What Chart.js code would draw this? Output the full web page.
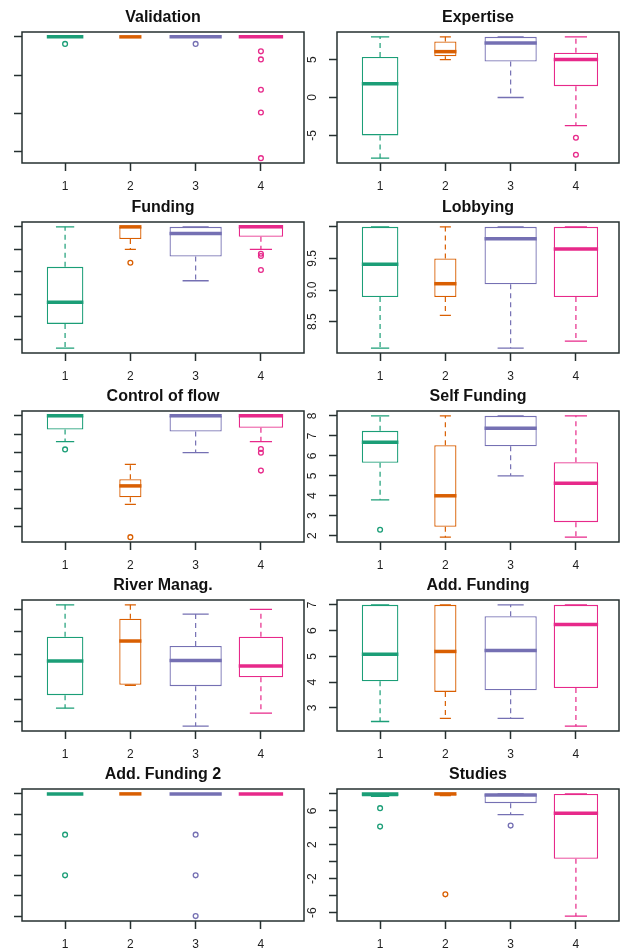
<!DOCTYPE html>
<html>
<head>
<meta charset="utf-8">
<script src="https://cdn.jsdelivr.net/npm/chart.js@4.4.1/dist/chart.umd.min.js"></script>
<style>
  html, body { margin: 0; padding: 0; background: #ffffff; width: 626px; height: 949px; overflow: hidden; }
  body { position: relative; }
  canvas { position: absolute; }
</style>
</head>
<body>
<script>
// ---- groups ----
const groups = ['1', '2', '3', '4'];
const groupX = [1, 2, 3, 4];

// ---- Validation ----
const validationLow  = [8, 8, 8, 8];
const validationQ1   = [8, 8, 8, 8];
const validationMed  = [8, 8, 8, 8];
const validationQ3   = [8, 8, 8, 8];
const validationHigh = [8, 8, 8, 8];
const validationOut  = [[7.63], [], [7.63], [7.24, 6.82, 5.23, 4.04, 1.65]];
const validationTicks = [8, 6, 4, 2];

// ---- Expertise ----
const expertiseLow  = [-8, 5, 0, -3.7];
const expertiseQ1   = [-5, 5.45, 4.75, 1.5];
const expertiseMed  = [1.8, 6.05, 7.2, 5];
const expertiseQ3   = [5.35, 7.4, 8, 5.9];
const expertiseHigh = [8, 8, 8, 8];
const expertiseOut  = [[], [], [], [-5.3, -7.55]];
const expertiseTicks = [5, 0, -5];
const expertiseTickLabels = ['5', '0', '-5'];

// ---- Funding ----
const fundingLow  = [7.3, 9.5, 8.8, 9.5];
const fundingQ1   = [7.84, 9.73, 9.34, 9.78];
const fundingMed  = [8.32, 10, 9.85, 10];
const fundingQ3   = [9.11, 10, 10, 10];
const fundingHigh = [10, 10, 10, 10];
const fundingOut  = [[], [9.2], [], [9.4, 9.35, 9.04]];
const fundingTicks = [10, 9.5, 9, 8.5, 8, 7.5];

// ---- Lobbying ----
const lobbyingLow  = [8.08, 8.6, 8.08, 8.19];
const lobbyingQ1   = [8.89, 8.89, 9.09, 8.89];
const lobbyingMed  = [9.41, 9.1, 9.81, 9.65];
const lobbyingQ3   = [10, 9.5, 10, 10];
const lobbyingHigh = [10, 10, 10, 10];
const lobbyingOut  = [[], [], [], []];
const lobbyingTicks = [10, 9.5, 9, 8.5];
const lobbyingTickLabels = ['', '9.5', '9.0', '8.5'];

// ---- Control of flow ----
const controlLow  = [6.6, 3.2, 6, 6.6];
const controlQ1   = [7.26, 3.58, 7.15, 7.35];
const controlMed  = [8, 4.2, 8, 8];
const controlQ3   = [8, 4.56, 8, 8];
const controlHigh = [8, 5.37, 8, 8];
const controlOut  = [[6.18], [1.42], [], [6.2, 6.0, 5.03]];
const controlTicks = [8, 7, 6, 5, 4, 3, 2];

// ---- Self Funding ----
const selfFundingLow  = [3.8, 1.93, 5, 1.93];
const selfFundingQ1   = [5.65, 2.45, 6.48, 2.68];
const selfFundingMed  = [6.68, 4, 7.38, 4.63];
const selfFundingQ3   = [7.25, 6.53, 8, 5.68];
const selfFundingHigh = [8, 8, 8, 8];
const selfFundingOut  = [[2.3], [], [], []];
const selfFundingTicks = [8, 7, 6, 5, 4, 3, 2];
const selfFundingTickLabels = ['8', '7', '6', '5', '4', '3', '2'];

// ---- River Manag. ----
const riverLow  = [2.6, 3.62, 1.8, 2.38];
const riverQ1   = [3.18, 3.64, 3.58, 3.98];
const riverMed  = [4.7, 5.59, 4.72, 4.48];
const riverQ3   = [5.78, 6.58, 5.37, 5.78];
const riverHigh = [7.2, 7.2, 6.79, 7.0];
const riverOut  = [[], [], [], []];
const riverTicks = [7, 6, 5, 4, 3, 2];

// ---- Add. Funding ----
const addFundingLow  = [2.47, 2.59, 2.59, 2.29];
const addFundingQ1   = [4.03, 3.62, 3.68, 3.77];
const addFundingMed  = [5.08, 5.19, 5.23, 6.24];
const addFundingQ3   = [7, 7, 6.56, 7];
const addFundingHigh = [7, 7, 7, 7];
const addFundingOut  = [[], [], [], []];
const addFundingTicks = [7, 6, 5, 4, 3];
const addFundingTickLabels = ['7', '6', '5', '4', '3'];

// ---- Add. Funding 2 ----
const addFunding2Low  = [7, 7, 7, 7];
const addFunding2Q1   = [7, 7, 7, 7];
const addFunding2Med  = [7, 7, 7, 7];
const addFunding2Q3   = [7, 7, 7, 7];
const addFunding2High = [7, 7, 7, 7];
const addFunding2Out  = [[5, 3], [], [5, 3, 1], []];
const addFunding2Ticks = [7, 6, 5, 4, 3, 2, 1];

// ---- Studies ----
const studiesLow  = [7.7, 7.8, 5.56, -6.42];
const studiesQ1   = [7.7, 7.8, 6.91, 0.34];
const studiesMed  = [8, 8, 7.86, 5.73];
const studiesQ3   = [8, 8, 8, 8];
const studiesHigh = [8, 8, 8, 8];
const studiesOut  = [[6.32, 4.14], [-3.85], [4.26], []];
const studiesTicks = [8, 6, 4, 2, 0, -2, -4, -6];
const studiesTickLabels = ['', '6', '', '2', '', '-2', '', '-6'];

// ---- styling ----
const palette = ['#1B9E77', '#D95F02', '#7570B3', '#E7298A'];
const boxWidths = [0.56, 0.34, 0.8, 0.68];   // box width relative to group spacing
const frameColor = '#263030';
const fontFamily = '"Liberation Sans", Arial, Helvetica, sans-serif';

const panels = [
  { title: 'Validation', low: validationLow, q1: validationQ1, med: validationMed, q3: validationQ3, high: validationHigh, out: validationOut, ticks: validationTicks, labels: null },
  { title: 'Expertise', low: expertiseLow, q1: expertiseQ1, med: expertiseMed, q3: expertiseQ3, high: expertiseHigh, out: expertiseOut, ticks: expertiseTicks, labels: expertiseTickLabels },
  { title: 'Funding', low: fundingLow, q1: fundingQ1, med: fundingMed, q3: fundingQ3, high: fundingHigh, out: fundingOut, ticks: fundingTicks, labels: null },
  { title: 'Lobbying', low: lobbyingLow, q1: lobbyingQ1, med: lobbyingMed, q3: lobbyingQ3, high: lobbyingHigh, out: lobbyingOut, ticks: lobbyingTicks, labels: lobbyingTickLabels },
  { title: 'Control of flow', low: controlLow, q1: controlQ1, med: controlMed, q3: controlQ3, high: controlHigh, out: controlOut, ticks: controlTicks, labels: null },
  { title: 'Self Funding', low: selfFundingLow, q1: selfFundingQ1, med: selfFundingMed, q3: selfFundingQ3, high: selfFundingHigh, out: selfFundingOut, ticks: selfFundingTicks, labels: selfFundingTickLabels },
  { title: 'River Manag.', low: riverLow, q1: riverQ1, med: riverMed, q3: riverQ3, high: riverHigh, out: riverOut, ticks: riverTicks, labels: null },
  { title: 'Add. Funding', low: addFundingLow, q1: addFundingQ1, med: addFundingMed, q3: addFundingQ3, high: addFundingHigh, out: addFundingOut, ticks: addFundingTicks, labels: addFundingTickLabels },
  { title: 'Add. Funding 2', low: addFunding2Low, q1: addFunding2Q1, med: addFunding2Med, q3: addFunding2Q3, high: addFunding2High, out: addFunding2Out, ticks: addFunding2Ticks, labels: null },
  { title: 'Studies', low: studiesLow, q1: studiesQ1, med: studiesMed, q3: studiesQ3, high: studiesHigh, out: studiesOut, ticks: studiesTicks, labels: studiesTickLabels }
];

// whiskers + staples under the boxes, medians on top of them
const boxplotParts = {
  id: 'boxplotParts',
  beforeDatasetsDraw(chart, args, opts) {
    const { ctx } = chart;
    const y = chart.scales.y;
    ctx.save();
    opts.low.forEach((lo, g) => {
      const bar = chart.getDatasetMeta(g).data[0];
      const cx = bar.x;
      const half = bar.width / 4;
      const yLo = y.getPixelForValue(lo);
      const yHi = y.getPixelForValue(opts.high[g]);
      const yQ1 = y.getPixelForValue(opts.q1[g]);
      const yQ3 = y.getPixelForValue(opts.q3[g]);
      ctx.strokeStyle = palette[g];
      ctx.lineWidth = 1.2;
      ctx.setLineDash([5, 4]);
      ctx.beginPath();
      ctx.moveTo(cx, yQ1); ctx.lineTo(cx, yLo);
      ctx.moveTo(cx, yQ3); ctx.lineTo(cx, yHi);
      ctx.stroke();
      ctx.setLineDash([]);
      ctx.lineWidth = 1.3;
      ctx.beginPath();
      ctx.moveTo(cx - half, yLo); ctx.lineTo(cx + half, yLo);
      ctx.moveTo(cx - half, yHi); ctx.lineTo(cx + half, yHi);
      ctx.stroke();
    });
    ctx.restore();
  },
  afterDatasetsDraw(chart, args, opts) {
    const { ctx } = chart;
    const y = chart.scales.y;
    ctx.save();
    ctx.lineCap = 'butt';
    opts.med.forEach((m, g) => {
      const bar = chart.getDatasetMeta(g).data[0];
      const py = y.getPixelForValue(m);
      ctx.strokeStyle = palette[g];
      ctx.lineWidth = 3.5;
      ctx.beginPath();
      ctx.moveTo(bar.x - bar.width / 2, py);
      ctx.lineTo(bar.x + bar.width / 2, py);
      ctx.stroke();
    });
    ctx.restore();
  }
};

// plot frame and rotated y tick labels
const frameAndLabels = {
  id: 'frameAndLabels',
  afterDraw(chart) {
    const { ctx, chartArea: a } = chart;
    const y = chart.scales.y;
    ctx.save();
    ctx.strokeStyle = frameColor;
    ctx.lineWidth = 1.5;
    ctx.strokeRect(a.left, a.top, a.right - a.left, a.bottom - a.top);
    ctx.font = '12px ' + fontFamily;
    ctx.fillStyle = '#1e1e1e';
    ctx.textAlign = 'center';
    ctx.textBaseline = 'middle';
    y.ticks.forEach(t => {
      if (!t.label) return;
      ctx.save();
      ctx.translate(a.left - 24.5, y.getPixelForValue(t.value));
      ctx.rotate(-Math.PI / 2);
      ctx.fillText(t.label, 0, 0);
      ctx.restore();
    });
    ctx.restore();
  }
};

const rowTop = [0, 190, 379, 568, 757];

panels.forEach((p, i) => {
  const col = i % 2;
  const row = Math.floor(i / 2);
  const W = col === 0 ? 313 : 330;
  const H = 200;
  const areaLeft = col === 0 ? 22 : 41;
  const areaRight = col === 0 ? 304 : 323;
  const areaBottom = row === 4 ? 164 : 163;
  const axisHeight = 34;

  const canvas = document.createElement('canvas');
  canvas.width = W;
  canvas.height = H;
  canvas.style.left = (col === 0 ? 0 : 296) + 'px';
  canvas.style.top = rowTop[row] + 'px';
  canvas.style.width = W + 'px';
  canvas.style.height = H + 'px';
  document.body.appendChild(canvas);

  const all = [...p.low, ...p.high, ...p.out.flat()];
  const dMin = Math.min(...all);
  const dMax = Math.max(...all);
  const pad = (dMax - dMin) * 0.04;

  const datasets = groupX.map((x, g) => ({
    type: 'bar',
    label: groups[g],
    data: [{ x: x, y: [p.q1[g], p.q3[g]] }],
    backgroundColor: '#ffffff',
    borderColor: palette[g],
    borderWidth: 1.3,
    borderSkipped: false,
    grouped: false,
    categoryPercentage: 1,
    barPercentage: boxWidths[g],
    order: 2
  }));
  groupX.forEach((x, g) => {
    datasets.push({
      type: 'scatter',
      label: groups[g] + ' outliers',
      data: p.out[g].map(v => ({ x: x, y: v })),
      pointStyle: 'circle',
      pointRadius: 2.4,
      pointBorderWidth: 1.3,
      pointBorderColor: palette[g],
      pointBackgroundColor: 'rgba(0,0,0,0)',
      order: 1
    });
  });

  const tickMarks = {
    display: true,
    drawOnChartArea: false,
    drawTicks: true,
    tickLength: 8,
    tickWidth: 1.5,
    tickColor: frameColor,
    offset: false
  };

  new Chart(canvas, {
    type: 'bar',
    data: { datasets },
    options: {
      responsive: false,
      animation: false,
      devicePixelRatio: 1,
      layout: { padding: { left: 0, top: 0, right: W - areaRight, bottom: H - areaBottom - axisHeight } },
      plugins: {
        legend: { display: false },
        tooltip: { enabled: false },
        title: {
          display: true,
          text: p.title,
          fullSize: false,
          color: '#111111',
          font: { family: fontFamily, size: 16, weight: 'bold', lineHeight: 1.2 },
          padding: { top: 8, bottom: 4.8 }
        },
        boxplotParts: { low: p.low, q1: p.q1, med: p.med, q3: p.q3, high: p.high }
      },
      scales: {
        x: {
          type: 'linear',
          min: 0.34,
          max: 4.66,
          offset: false,
          afterBuildTicks: s => { s.ticks = groupX.map(v => ({ value: v })); },
          afterFit: s => { s.height = axisHeight; },
          grid: tickMarks,
          border: { display: false },
          ticks: {
            callback: (v, k) => groups[k],
            autoSkip: false,
            maxRotation: 0,
            padding: 8.5,
            color: '#1e1e1e',
            font: { family: fontFamily, size: 12 }
          }
        },
        y: {
          type: 'linear',
          min: dMin - pad,
          max: dMax + pad,
          afterBuildTicks: s => { s.ticks = p.ticks.map(v => ({ value: v })); },
          afterFit: s => { s.width = areaLeft; },
          grid: tickMarks,
          border: { display: false },
          ticks: {
            display: false,
            callback: (v, k) => (p.labels ? p.labels[k] : '')
          }
        }
      }
    },
    plugins: [boxplotParts, frameAndLabels]
  });
});
</script>
</body>
</html>
